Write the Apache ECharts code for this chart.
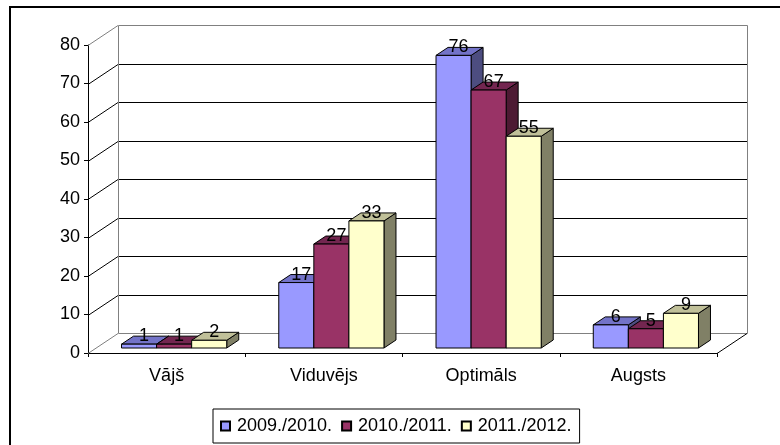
<!DOCTYPE html>
<html>
<head>
<meta charset="UTF-8">
<script src="https://cdn.jsdelivr.net/npm/echarts@6/dist/echarts.min.js"></script>
<style>
  html, body { margin: 0; padding: 0; background: #fff; }
  #chart { width: 780px; height: 445px; }
</style>
</head>
<body>
<div id="chart"></div>
<script>
// data
var categories = ['Vājš', 'Viduvējs', 'Optimāls', 'Augsts'];
var seriesNames = ['2009./2010.', '2010./2011.', '2011./2012.'];
var s2009 = [1, 17, 76, 6];
var s2010 = [1, 27, 67, 5];
var s2011 = [2, 33, 55, 9];
var yTicks = [0, 10, 20, 30, 40, 50, 60, 70, 80];

// front / top / side colours of each series
var faces = [
  ['#9999FF', '#7373C8', '#4D4D80'],
  ['#993366', '#732650', '#4D1A33'],
  ['#FFFFCC', '#C0C099', '#808066']
];
var FONT = '18px "Liberation Sans", Arial, sans-serif';
var WDX = 30, WDY = -20;   // wall depth
var BOX = 7.5, BOY = -5;   // bar offset into the floor
var BDX = 12, BDY = -8;    // bar depth

function px(v) { return Math.round(v) + 0.5; }

function renderWalls(params, api) {
  var cs = params.coordSys;
  var x0 = cs.x, x1 = cs.x + cs.width;
  var kids = [];
  var yTop = api.coord([0, yTicks[yTicks.length - 1]])[1];
  var yBot = api.coord([0, 0])[1];
  yTicks.forEach(function (v, i) {
    var y = api.coord([0, v])[1];
    var edge = (i === 0 || i === yTicks.length - 1);
    var col = edge ? '#808080' : '#000';
    // side wall diagonal
    kids.push({ type: 'line', shape: { x1: x0, y1: px(y), x2: x0 + WDX, y2: px(y + WDY) },
      style: { stroke: col, lineWidth: 1 } });
    // back wall line
    kids.push({ type: 'line', shape: { x1: px(x0 + WDX), y1: px(y + WDY), x2: px(x1 + WDX), y2: px(y + WDY) },
      style: { stroke: col, lineWidth: 1 } });
  });
  // back wall verticals
  [x0 + WDX, x1 + WDX].forEach(function (x) {
    kids.push({ type: 'line', shape: { x1: px(x), y1: px(yTop + WDY), x2: px(x), y2: px(yBot + WDY) },
      style: { stroke: '#808080', lineWidth: 1 } });
  });
  // right floor edge
  kids.push({ type: 'line', shape: { x1: x1, y1: px(yBot), x2: x1 + WDX, y2: px(yBot + WDY) },
    style: { stroke: '#000', lineWidth: 1 } });
  return { type: 'group', children: kids };
}

function makeBarRenderer(k) {
  return function (params, api) {
    var cat = api.value(0), val = api.value(1);
    var base = api.coord([cat, 0]);
    var top = api.coord([cat, val]);
    var band = api.size([1, 0])[0];
    var bw = band * 0.223;
    var xl = base[0] - 1.5 * bw + k * bw + BOX;
    var xr = xl + bw;
    var yb = base[1] + BOY;
    var yt = top[1] + BOY;
    var st = { stroke: '#000', lineWidth: 1, lineJoin: 'round' };
    var f = faces[k];
    return {
      type: 'group',
      children: [
        { type: 'polygon', shape: { points: [[xr, yt], [xr + BDX, yt + BDY], [xr + BDX, yb + BDY], [xr, yb]] },
          style: Object.assign({ fill: f[2] }, st) },
        { type: 'polygon', shape: { points: [[xl, yt], [xl + BDX, yt + BDY], [xr + BDX, yt + BDY], [xr, yt]] },
          style: Object.assign({ fill: f[1] }, st) },
        { type: 'rect', shape: { x: xl, y: yt, width: bw, height: yb - yt },
          style: Object.assign({ fill: f[0] }, st) },
        { type: 'text', style: { text: String(val), x: (xl + xr) / 2 + 5, y: yt - 8,
          align: 'center', verticalAlign: 'middle', fill: '#000', font: FONT } }
      ]
    };
  };
}

function toData(arr) { return arr.map(function (v, i) { return [i, v]; }); }

var chart = echarts.init(document.getElementById('chart'));
var option = {
  animation: false,
  backgroundColor: '#fff',
  textStyle: { fontFamily: '"Liberation Sans", Arial, sans-serif' },
  graphic: [{
    type: 'rect', shape: { x: 10, y: 7, width: 800, height: 500 },
    style: { fill: 'none', stroke: '#000', lineWidth: 2 }, silent: true
  }],
  grid: { left: 88, right: 63, top: 45, bottom: 92, containLabel: false },
  legend: {
    data: seriesNames,
    left: 213, top: 409,
    icon: 'rect', itemWidth: 9, itemHeight: 9, itemGap: 9,
    borderColor: '#000', borderWidth: 1, borderRadius: 0,
    padding: [8, 8, 8, 7],
    textStyle: { color: '#000', fontSize: 18, padding: [0, 0, 0, 2] }
  },
  xAxis: {
    type: 'category', data: categories,
    axisLine: { lineStyle: { color: '#000', width: 1 } },
    axisTick: { show: true, length: 4, lineStyle: { color: '#000' } },
    axisLabel: { color: '#000', fontSize: 18, margin: 14 },
    splitLine: { show: false }
  },
  yAxis: {
    type: 'value', min: 0, max: 80, interval: 10,
    axisLine: { show: true, lineStyle: { color: '#000', width: 1 } },
    axisTick: { show: true, length: 4, lineStyle: { color: '#000' } },
    axisLabel: { color: '#000', fontSize: 18, margin: 8 },
    splitLine: { show: false }
  },
  series: [
    { type: 'custom', name: 'walls', silent: true, z: 1, renderItem: renderWalls, data: [[0, 0]] },
    { type: 'custom', name: seriesNames[0], z: 2, renderItem: makeBarRenderer(0), data: toData(s2009),
      itemStyle: { color: faces[0][0], borderColor: '#000', borderWidth: 1 } },
    { type: 'custom', name: seriesNames[1], z: 3, renderItem: makeBarRenderer(1), data: toData(s2010),
      itemStyle: { color: faces[1][0], borderColor: '#000', borderWidth: 1 } },
    { type: 'custom', name: seriesNames[2], z: 4, renderItem: makeBarRenderer(2), data: toData(s2011),
      itemStyle: { color: faces[2][0], borderColor: '#000', borderWidth: 1 } }
  ]
};
chart.setOption(option);
</script>
</body>
</html>
